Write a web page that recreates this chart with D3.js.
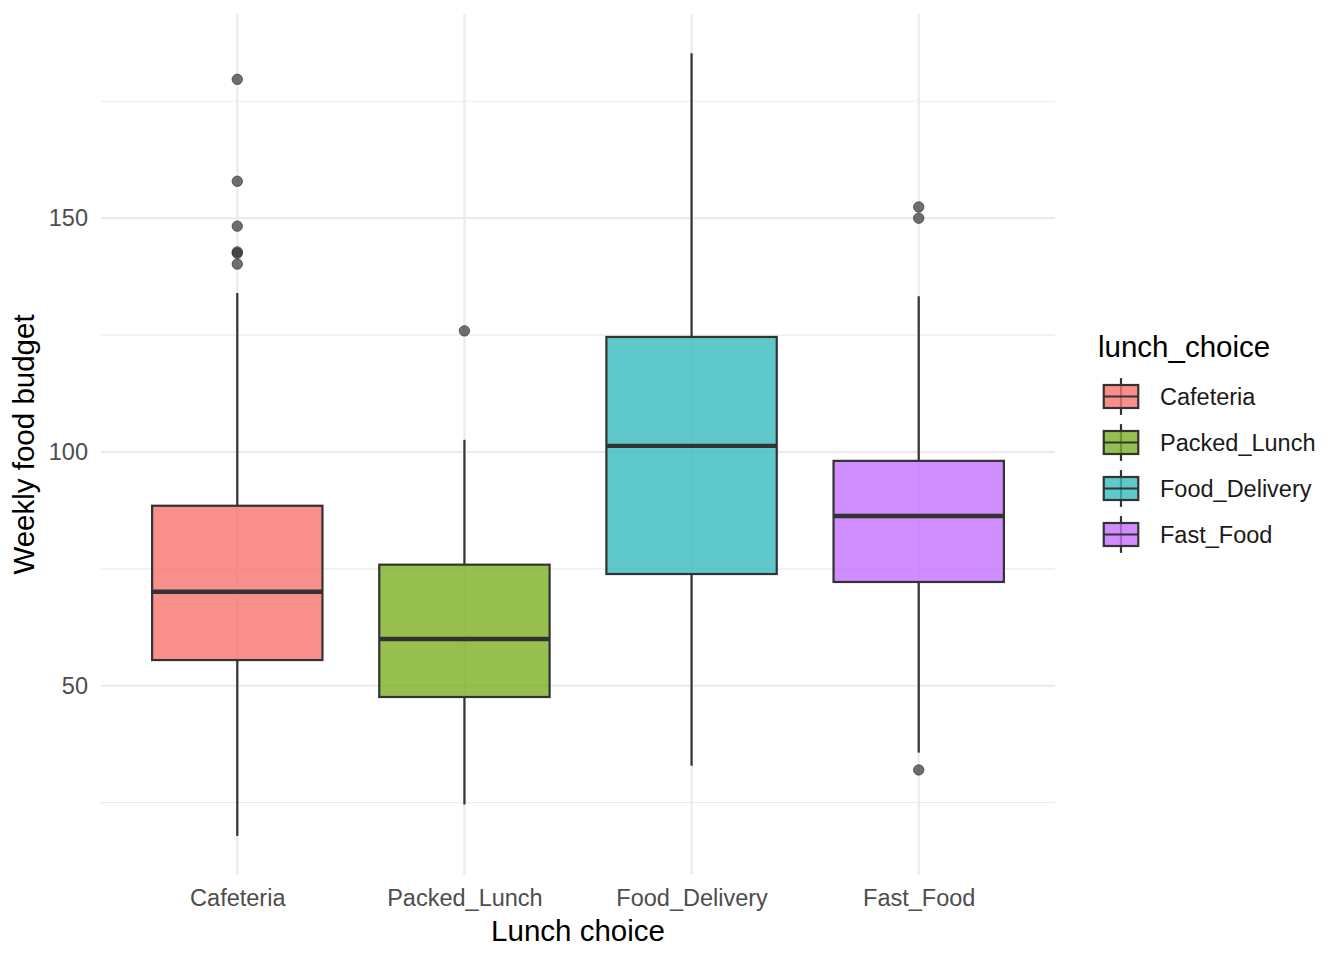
<!DOCTYPE html>
<html>
<head>
<meta charset="utf-8">
<script src="https://cdn.jsdelivr.net/npm/d3@7"></script>
<style>
  body { margin: 0; background: #fff; }
  svg { font-family: "Liberation Sans", Arial, sans-serif; }
</style>
</head>
<body>
<svg id="chart" width="1344" height="960"></svg>
<script>
// box stats
const categories = ["Cafeteria", "Packed_Lunch", "Food_Delivery", "Fast_Food"];
const colors = ["#F6736D", "#7DAF23", "#36BABD", "#C370FE"];
const whiskerLow = [17.9, 24.6, 32.9, 35.7];
const q1 = [55.5, 47.6, 73.9, 72.2];
const medians = [70.1, 60.0, 101.3, 86.3];
const q3 = [88.5, 75.9, 124.6, 98.1];
const whiskerHigh = [134.0, 102.6, 185.3, 133.3];
const outliers = [
    [179.7, 157.9, 148.3, 142.8, 142.5, 140.2],
    [125.9],
    [],
    [152.4, 150.0, 32.0]
];
const majorTicks = [50, 100, 150];
const minorTicks = [25, 75, 125, 175];

const svg = d3.select("#chart");
const margin = {top: 14, right: 289, bottom: 85, left: 101};
const plotW = 1344 - margin.left - margin.right;
const plotH = 960 - margin.top - margin.bottom;

const g = svg.append("g")
    .attr("transform", "translate(" + margin.left + "," + margin.top + ")");

// ggplot style 5% expansion
const lo = d3.min(whiskerLow.concat(outliers.flat()));
const hi = d3.max(whiskerHigh.concat(outliers.flat()));
const pad = (hi - lo) * 0.05;

const y = d3.scaleLinear()
    .domain([lo - pad, hi + pad])
    .range([plotH, 0]);

const x = d3.scalePoint()
    .domain(categories)
    .range([0, plotW])
    .padding(0.6);

const boxW = x.step() * 0.75;

// grid
g.selectAll(".minor").data(minorTicks).join("line")
    .attr("x1", 0).attr("x2", plotW)
    .attr("y1", d => y(d)).attr("y2", d => y(d))
    .attr("stroke", "#EBEBEB").attr("stroke-width", 1.1);

g.selectAll(".majorY").data(majorTicks).join("line")
    .attr("x1", 0).attr("x2", plotW)
    .attr("y1", d => y(d)).attr("y2", d => y(d))
    .attr("stroke", "#EBEBEB").attr("stroke-width", 2.2);

g.selectAll(".majorX").data(categories).join("line")
    .attr("x1", d => x(d)).attr("x2", d => x(d))
    .attr("y1", 0).attr("y2", plotH)
    .attr("stroke", "#EBEBEB").attr("stroke-width", 2.2);

// axis labels
const yAxis = g.append("g").call(d3.axisLeft(y).tickValues(majorTicks).tickSize(0).tickPadding(13));
yAxis.select(".domain").remove();
yAxis.selectAll("text").attr("fill", "#4D4D4D").style("font-size", "23.5px");

const xAxis = g.append("g")
    .attr("transform", "translate(0," + plotH + ")")
    .call(d3.axisBottom(x).tickSize(0).tickPadding(14));
xAxis.select(".domain").remove();
xAxis.selectAll("text").attr("fill", "#4D4D4D").style("font-size", "23.5px");

// boxes
const data = categories.map((c, i) => ({
    cat: c, color: colors[i], lo: whiskerLow[i], q1: q1[i], med: medians[i],
    q3: q3[i], hi: whiskerHigh[i], out: outliers[i]
}));

const boxes = g.selectAll(".box").data(data).join("g");

boxes.append("line")
    .attr("x1", d => x(d.cat)).attr("x2", d => x(d.cat))
    .attr("y1", d => y(d.hi)).attr("y2", d => y(d.q3))
    .attr("stroke", "#333333").attr("stroke-width", 2.2);

boxes.append("line")
    .attr("x1", d => x(d.cat)).attr("x2", d => x(d.cat))
    .attr("y1", d => y(d.q1)).attr("y2", d => y(d.lo))
    .attr("stroke", "#333333").attr("stroke-width", 2.2);

boxes.append("rect")
    .attr("x", d => x(d.cat) - boxW / 2)
    .attr("width", boxW)
    .attr("y", d => y(d.q3))
    .attr("height", d => y(d.q1) - y(d.q3))
    .attr("fill", d => d.color)
    .attr("fill-opacity", 0.8)
    .attr("stroke", "#333333")
    .attr("stroke-width", 2.2);

boxes.append("line")
    .attr("x1", d => x(d.cat) - boxW / 2).attr("x2", d => x(d.cat) + boxW / 2)
    .attr("y1", d => y(d.med)).attr("y2", d => y(d.med))
    .attr("stroke", "#333333").attr("stroke-width", 4.4);

boxes.each(function(d) {
    d3.select(this).selectAll("circle").data(d.out).join("circle")
        .attr("cx", x(d.cat))
        .attr("cy", v => y(v))
        .attr("r", 5.2)
        .attr("fill", "#333333")
        .attr("fill-opacity", 0.7)
        .attr("stroke", "#333333")
        .attr("stroke-opacity", 0.7)
        .attr("stroke-width", 1);
});

// axis titles
svg.append("text")
    .attr("x", margin.left + plotW / 2)
    .attr("y", 941)
    .attr("text-anchor", "middle")
    .style("font-size", "29.5px")
    .text("Lunch choice");

svg.append("text")
    .attr("transform", "translate(34," + (margin.top + plotH / 2) + ") rotate(-90)")
    .attr("text-anchor", "middle")
    .style("font-size", "29.5px")
    .text("Weekly food budget");

// legend
const legend = svg.append("g").attr("transform", "translate(1098,0)");
legend.append("text")
    .attr("x", 0).attr("y", 357)
    .style("font-size", "29.5px")
    .text("lunch_choice");

const keySize = 46;
const keys = legend.selectAll(".key").data(data).join("g")
    .attr("transform", (d, i) => "translate(0," + (373.5 + i * keySize) + ")");

keys.append("line")
    .attr("x1", keySize / 2).attr("x2", keySize / 2)
    .attr("y1", keySize * 0.1).attr("y2", keySize * 0.9)
    .attr("stroke", "#333333").attr("stroke-width", 2.2);

keys.append("rect")
    .attr("x", keySize * 0.125).attr("width", keySize * 0.75)
    .attr("y", keySize * 0.25).attr("height", keySize * 0.5)
    .attr("fill", d => d.color).attr("fill-opacity", 0.8)
    .attr("stroke", "#333333").attr("stroke-width", 2.2);

keys.append("line")
    .attr("x1", keySize * 0.125).attr("x2", keySize * 0.875)
    .attr("y1", keySize / 2).attr("y2", keySize / 2)
    .attr("stroke", "#333333").attr("stroke-width", 2.2);

keys.append("text")
    .attr("x", 62).attr("y", keySize / 2 + 8.4)
    .style("font-size", "23.5px")
    .attr("fill", "#1a1a1a")
    .text(d => d.cat);
</script>
</body>
</html>
